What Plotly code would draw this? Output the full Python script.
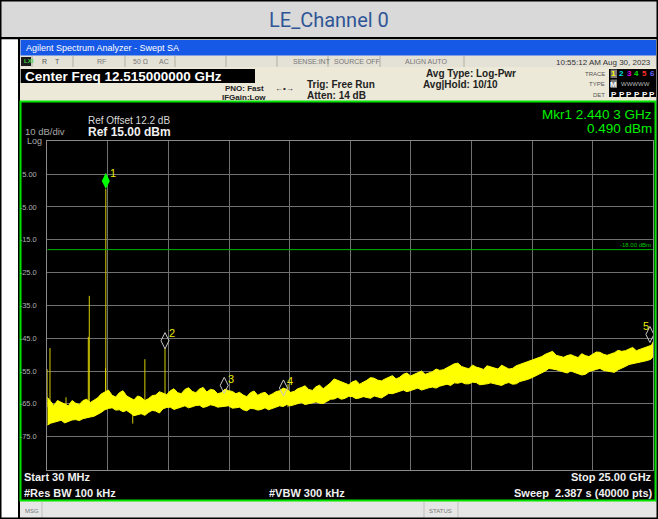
import plotly.graph_objects as go

W, H = 658, 519


def px(x):
    return x / W


def py(y):
    return 1 - y / H


# ---------------- data ----------------
start_ghz, stop_ghz = 0.03, 25.0
ref_dbm, bottom_dbm = 15.0, -85.0
y_tick_vals = [5, -5, -15, -25, -35, -45, -55, -65, -75]
y_tick_text = ["5.00", "-5.00", "-15.0", "-25.0", "-35.0", "-45.0", "-55.0", "-65.0", "-75.0"]

noise_freq_ghz = [0.03, 0.165, 0.3, 0.45, 0.6, 0.75, 0.9, 1.05, 1.2, 1.35, 1.5, 1.65, 1.8, 1.95,
                  2.1, 2.25, 2.4, 2.55, 2.7, 2.85, 3.0, 3.15, 3.3, 3.45, 3.6, 3.75, 3.9, 4.05,
                  4.2, 4.35, 4.5, 4.65, 4.8, 4.95, 5.1, 5.25, 5.4, 5.55, 5.7, 5.85, 6.0, 6.15,
                  6.3, 6.45, 6.6, 6.75, 6.9, 7.05, 7.2, 7.35, 7.5, 7.65, 7.8, 7.95, 8.1, 8.25,
                  8.4, 8.55, 8.7, 8.85, 9.0, 9.15, 9.3, 9.45, 9.6, 9.75, 9.9, 10.05, 10.2, 10.35,
                  10.5, 10.65, 10.8, 10.95, 11.1, 11.25, 11.4, 11.55, 11.7, 11.85, 12.0, 12.15,
                  12.3, 12.45, 12.6, 12.75, 12.9, 13.05, 13.2, 13.35, 13.5, 13.65, 13.8, 13.95,
                  14.1, 14.25, 14.4, 14.55, 14.7, 14.85, 15.0, 15.15, 15.3, 15.45, 15.6, 15.75,
                  15.9, 16.05, 16.2, 16.35, 16.5, 16.65, 16.8, 16.95, 17.1, 17.25, 17.4, 17.55,
                  17.7, 17.85, 18.0, 18.15, 18.3, 18.45, 18.6, 18.75, 18.9, 19.05, 19.2, 19.35,
                  19.5, 19.65, 19.8, 19.95, 20.1, 20.25, 20.4, 20.55, 20.7, 20.85, 21.0, 21.15,
                  21.3, 21.45, 21.6, 21.75, 21.9, 22.05, 22.2, 22.35, 22.5, 22.65, 22.8, 22.95,
                  23.1, 23.25, 23.4, 23.55, 23.7, 23.85, 24.0, 24.15, 24.3, 24.45, 24.6, 24.75,
                  24.9, 24.95, 25.0]
noise_upper_dbm = [-63.0, -64.2, -65.5, -64.0, -64.5, -65.0, -65.6, -64.0, -64.8, -65.2, -64.0,
                   -63.6, -64.6, -63.9, -63.2, -62.0, -61.5, -60.8, -62.4, -62.9, -61.6, -61.0,
                   -62.6, -63.1, -63.8, -62.6, -63.0, -64.0, -63.4, -62.5, -62.3, -61.3, -61.8,
                   -62.2, -61.0, -60.4, -61.6, -61.9, -60.6, -60.1, -61.2, -61.6, -60.5, -60.0,
                   -61.4, -60.6, -60.8, -61.9, -61.6, -60.5, -61.0, -61.2, -61.9, -61.5, -62.3,
                   -62.8, -61.6, -61.1, -62.4, -61.8, -61.5, -62.5, -62.0, -61.3, -61.0, -60.2,
                   -60.6, -61.5, -61.2, -60.4, -60.0, -59.5, -60.6, -60.9, -59.8, -59.3, -60.4,
                   -59.6, -58.6, -57.4, -57.9, -58.4, -58.9, -59.2, -58.3, -57.9, -59.0, -58.5,
                   -57.8, -57.0, -57.2, -57.8, -58.0, -57.4, -56.8, -56.4, -57.4, -56.9, -56.0,
                   -55.6, -56.5, -56.0, -55.4, -55.0, -56.0, -55.5, -55.2, -54.4, -54.8, -54.6,
                   -54.0, -53.3, -52.8, -52.6, -53.6, -54.0, -54.3, -53.2, -53.8, -54.1, -54.5,
                   -53.4, -53.7, -54.0, -54.4, -53.2, -53.9, -54.4, -54.2, -53.4, -53.0, -52.6,
                   -52.4, -51.9, -51.6, -51.0, -50.6, -49.9, -49.4, -49.0, -50.2, -50.6, -50.8,
                   -50.3, -50.0, -50.5, -50.9, -49.7, -50.3, -50.6, -49.8, -49.2, -49.3, -49.9,
                   -50.2, -49.8, -49.4, -48.7, -49.0, -48.8, -48.3, -47.8, -48.8, -48.4, -47.9,
                   -47.4, -47.2, -46.8, -46.0]
noise_lower_dbm = [-71.5, -70.9, -70.6, -70.3, -70.0, -70.8, -70.4, -69.9, -69.8, -70.1, -69.5,
                   -69.2, -69.0, -68.8, -68.2, -67.6, -66.8, -66.4, -66.2, -66.9, -66.8, -67.4,
                   -67.0, -67.8, -68.6, -68.2, -68.0, -68.5, -67.6, -67.0, -67.2, -67.8, -66.5,
                   -66.1, -66.0, -66.7, -66.3, -65.9, -65.6, -66.2, -65.9, -65.5, -65.4, -66.1,
                   -65.8, -65.3, -65.5, -66.0, -66.0, -65.7, -65.6, -66.3, -66.2, -66.0, -66.8,
                   -67.1, -66.4, -66.5, -66.9, -66.7, -66.2, -66.8, -66.5, -66.0, -65.6, -65.8,
                   -65.2, -65.6, -65.4, -64.9, -64.6, -65.2, -65.0, -64.7, -64.4, -64.8, -64.9,
                   -64.2, -63.6, -63.5, -63.0, -63.6, -63.3, -62.7, -62.8, -63.4, -63.2, -62.8,
                   -63.0, -63.3, -62.6, -62.9, -63.2, -62.4, -61.8, -61.9, -61.4, -61.2, -60.8,
                   -61.3, -61.0, -60.6, -60.2, -60.8, -60.5, -60.1, -59.9, -60.2, -59.6, -59.3,
                   -59.0, -59.4, -58.6, -58.7, -58.4, -58.9, -58.9, -58.4, -58.5, -59.2, -59.0,
                   -58.9, -58.6, -58.8, -59.2, -59.4, -58.8, -58.5, -59.0, -58.9, -58.2, -58.0,
                   -57.6, -57.2, -56.6, -56.2, -55.6, -55.0, -54.2, -54.4, -54.6, -54.9, -55.2,
                   -55.6, -55.0, -55.3, -55.8, -56.2, -56.0, -55.2, -54.8, -54.5, -54.2, -54.8,
                   -55.0, -55.3, -55.4, -54.6, -54.0, -53.6, -53.0, -52.7, -52.4, -52.2, -52.0,
                   -51.8, -51.4, -51.0, -50.5]

spur_freq_ghz = [0.03, 0.14, 0.47, 0.80, 1.72, 1.76, 2.43, 2.4403, 3.55, 4.05, 4.88, 9.95]
spur_peak_dbm = [-54.4, -48.0, -64.0, -63.0, -44.6, -32.1, -54.1, 0.49, -71.0, -51.4, -48.0, -59.0]
spur_base_dbm = -66.0

marker_ids = ["1", "2", "3", "4", "5"]
marker_freq_ghz = [2.4403, 4.880, 7.320, 9.760, 24.86]
marker_dbm = [0.49, -48.2, -61.8, -62.6, -46.3]
marker_label_shift = [(7.5, 7.5), (7, 7.5), (7, 6.5), (7, 6.5), (-4, 8)]

display_line_dbm = -18.0

assert len(noise_freq_ghz) == len(noise_upper_dbm) == len(noise_lower_dbm)

# ---------------- geometry ----------------
PL, PR, PT, PB = 47.3, 653.3, 141.3, 469.5
px_per_db = (PB - PT) / (ref_dbm - bottom_dbm)
lift_db = 8.0 / px_per_db

FONT = "Liberation Sans, Arial, sans-serif"

fig = go.Figure()

# spurs (drawn first, noise band over their feet)
sx, sy = [], []
for f, p in zip(spur_freq_ghz, spur_peak_dbm):
    sx += [f, f, None]
    sy += [spur_base_dbm, p, None]
fig.add_trace(go.Scatter(x=sx, y=sy, mode="lines", line=dict(color="#d6cf00", width=1),
                         hoverinfo="skip", showlegend=False))

# noise band
fig.add_trace(go.Scatter(x=noise_freq_ghz + noise_freq_ghz[::-1],
                         y=noise_upper_dbm + noise_lower_dbm[::-1],
                         mode="lines", fill="toself", fillcolor="#ffff00",
                         line=dict(color="#ffff00", width=1), hoverinfo="skip", showlegend=False))

# markers
fig.add_trace(go.Scatter(x=marker_freq_ghz[1:], y=[v + lift_db for v in marker_dbm[1:]],
                         mode="markers",
                         marker=dict(symbol="diamond-tall-open", size=11.5, color="#c8c8c8",
                                     line=dict(width=1, color="#c8c8c8")),
                         hoverinfo="skip", showlegend=False))
fig.add_trace(go.Scatter(x=marker_freq_ghz[:1], y=[marker_dbm[0] + lift_db], mode="markers",
                         marker=dict(symbol="diamond-tall", size=11.5, color="#00ff00"),
                         hoverinfo="skip", showlegend=False))

anns = []
for mid, f, v, (dx, dy) in zip(marker_ids, marker_freq_ghz, marker_dbm, marker_label_shift):
    anns.append(dict(x=f, y=v + lift_db, xref="x", yref="y", text=mid, showarrow=False,
                     xshift=dx, yshift=dy, font=dict(family=FONT, size=11, color="#e8e800")))


def ann(text, x, y, size, color, xanchor="left", bold=False, family=FONT):
    if bold:
        text = "<b>" + text + "</b>"
    anns.append(dict(x=px(x), y=py(y), xref="paper", yref="paper", text=text, showarrow=False,
                     xanchor=xanchor, yanchor="middle", font=dict(family=family, size=size, color=color)))


shapes = []


def rect(x0, y0, x1, y1, fill, line=None, lw=0, layer="below"):
    shapes.append(dict(type="rect", xref="paper", yref="paper", x0=px(x0), x1=px(x1),
                       y0=py(y1), y1=py(y0), fillcolor=fill,
                       line=dict(color=line if line else fill, width=lw), layer=layer))


def vline(x, y0, y1, color, w=1, layer="below"):
    shapes.append(dict(type="line", xref="paper", yref="paper", x0=px(x), x1=px(x),
                       y0=py(y0), y1=py(y1), line=dict(color=color, width=w), layer=layer))


# outer frame
rect(0, 0, 658, 37, "#d9d9d9")
rect(0, 37, 658, 39.5, "#000000")
rect(0, 39.5, 18, 519, "#ffffff")
rect(18, 39.5, 658, 519, "#ece9d8")
vline(19, 39, 519, "#000000", 2)
# title bar of the window
rect(20.5, 40, 656, 55.5, "#1659e6")
# status row
rect(20.5, 56, 656, 67, "#e4e1d6")
for xs in [32, 73, 125, 175, 226, 277, 328, 380, 464]:
    vline(xs, 56, 67, "#b0ada0", 1)
rect(21, 57, 31, 66, "#1a1a1a")
# center freq box
rect(20.7, 69, 255, 83, "#000000")
# trace box
rect(609, 69, 656, 97, "#000000")
# display area
rect(20.5, 101.5, 655.5, 500.5, "#000000", "#00e400", 2)
# msg bar
rect(20.5, 502, 656, 519, "#e6e6e6")
vline(42, 502, 519, "#c0c0c0")
vline(424, 502, 519, "#c0c0c0")
vline(458, 502, 519, "#c0c0c0")
# outer black border
rect(0.5, 0.5, 657.5, 518.5, "rgba(0,0,0,0)", "#000000", 2, layer="above")

# display line
shapes.append(dict(type="line", xref="x", yref="y", x0=start_ghz, x1=stop_ghz,
                   y0=display_line_dbm, y1=display_line_dbm,
                   line=dict(color="#00b400", width=1), layer="above"))

# texts
anns.append(dict(x=0.5, y=py(20), xref="paper", yref="paper", text="LE_Channel 0", showarrow=False,
                 xanchor="center", yanchor="middle",
                 font=dict(family="Liberation Sans Narrow, Roboto, sans-serif", size=20, color="#2f5597")))
ann("Agilent Spectrum Analyzer - Swept SA", 24, 48, 9, "#ffffff")
ann("<b>LXI</b>", 22, 61.5, 6, "#39d239")
ann("R", 40, 61.5, 7, "#555555")
ann("T", 53, 61.5, 7, "#555555")
ann("RF", 95, 61.5, 7, "#777777")
ann("50 Ω", 131, 61.5, 7, "#777777")
ann("AC", 157, 61.5, 7, "#777777")
ann("SENSE:INT", 291, 61.5, 7, "#777777")
ann("SOURCE OFF", 332, 61.5, 7, "#777777")
ann("ALIGN AUTO", 403, 61.5, 7, "#777777")
ann("10:55:12 AM Aug 30, 2023", 653, 62.5, 8, "#333333", xanchor="right")
ann("Center Freq 12.515000000 GHz", 23, 76, 13.5, "#ffffff", bold=True)
ann("PNO: Fast", 266, 88, 8, "#222222", xanchor="right", bold=True)
ann("IFGain:Low", 268, 97, 8, "#222222", xanchor="right", bold=True)
ann("←•→", 273, 88, 8, "#222222")
ann("Trig: Free Run", 305, 85, 10, "#222222", bold=True)
ann("Atten: 14 dB", 305, 95, 10, "#222222", bold=True)
ann("Avg Type: Log-Pwr", 424, 73.5, 10, "#222222", bold=True)
ann("Avg|Hold: 10/10", 421, 84.5, 10, "#222222", bold=True)
ann("TRACE", 607, 73.5, 6, "#555555", xanchor="right")
ann("TYPE", 607, 84, 6, "#555555", xanchor="right")
ann("DET", 607, 94.5, 6, "#555555", xanchor="right")
rect(610.5, 69.5, 617, 78, "#777777")
rect(610.5, 79.5, 617, 88, "#777777")
for i, c in enumerate(["#ffff00", "#00e0e0", "#e000e0", "#00e000", "#ff3030", "#6060ff"]):
    ann("<b>%d</b>" % (i + 1), 613.8 + i * 7.7, 73.5, 8, c, xanchor="center")
ann("<b>M</b>", 613.8, 84, 8, "#ffffff", xanchor="center")
ann("WWWWW", 618.5, 84, 6, "#bbbbbb")
for i in range(6):
    ann("<b>P</b>", 613.8 + i * 7.7, 94.5, 8, "#ffffff", xanchor="center")

ann("Ref Offset 12.2 dB", 86, 120.5, 10, "#d8d8d8")
ann("Ref 15.00 dBm", 86, 131.5, 12, "#f0f0f0", bold=True)
ann("10 dB/div", 23, 131.5, 9.5, "#a8a8a8")
ann("Log", 25, 141, 9, "#a8a8a8")
ann("Mkr1 2.440 3 GHz", 654, 114, 13.5, "#00f000", xanchor="right")
ann("0.490 dBm", 654, 128.5, 13.5, "#00f000", xanchor="right")
ann("-18.00 dBm", 653, 245, 6, "#00c000", xanchor="right")
ann("Start 30 MHz", 22, 476.5, 11, "#f0f0f0", bold=True)
ann("Stop 25.00 GHz", 654, 476.5, 11, "#f0f0f0", xanchor="right", bold=True)
ann("#Res BW 100 kHz", 22, 492.5, 11, "#f0f0f0", bold=True)
ann("#VBW 300 kHz", 267, 492.5, 11, "#f0f0f0", bold=True)
ann("Sweep  2.387 s (40000 pts)", 655, 492.5, 11, "#f0f0f0", xanchor="right", bold=True)
ann("MSG", 23, 511, 6, "#777777")
ann("STATUS", 427, 511, 6, "#777777")

fig.update_layout(
    width=W, height=H, margin=dict(l=0, r=0, t=0, b=0),
    paper_bgcolor="#ffffff", plot_bgcolor="rgba(0,0,0,0)",
    showlegend=False, shapes=shapes, annotations=anns,
    xaxis=dict(domain=[px(PL), px(PR)], range=[start_ghz, stop_ghz], tick0=start_ghz,
               dtick=(stop_ghz - start_ghz) / 10, showticklabels=False, ticks="",
               showgrid=True, gridcolor="#707070", gridwidth=1, zeroline=False,
               showline=True, mirror=True, linecolor="#8a8a8a", linewidth=1),
    yaxis=dict(domain=[py(PB), py(PT)], range=[bottom_dbm, ref_dbm], tickvals=y_tick_vals,
               ticktext=y_tick_text, ticks="", ticklabelstandoff=8,
               tickfont=dict(family=FONT, size=7.5, color="#b0b0b0"),
               showgrid=True, gridcolor="#707070", gridwidth=1, zeroline=False,
               showline=True, mirror=True, linecolor="#8a8a8a", linewidth=1),
)

fig.write_html("out.html", config={"displayModeBar": False},
               post_script="document.body.style.margin='0';document.body.style.overflow='hidden';")
